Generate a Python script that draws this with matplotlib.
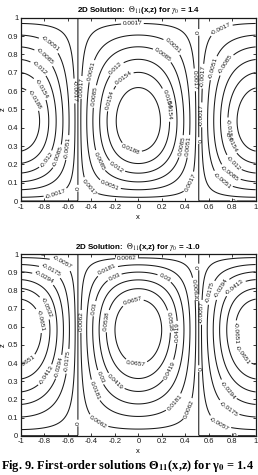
import numpy as np
import matplotlib.pyplot as plt

plt.rcParams['font.family'] = ['Liberation Sans', 'DejaVu Sans']
plt.rcParams['mathtext.fontset'] = 'stix'
plt.rcParams['contour.negative_linestyle'] = 'solid'

# contour levels (from the labels in the picture)
levels_a = [-0.0188, -0.0154, -0.012, -0.0085, -0.0051, -0.0017, -1e-9,
            0.0017, 0.0051, 0.0085, 0.012, 0.0154, 0.0188]
levels_b = [-0.0651, -0.0532, -0.0413, -0.0294, -0.0175, -0.0057, -1e-9,
            0.0062, 0.0181, 0.03, 0.0419, 0.0538, 0.0657]

# shape of Theta_11
amp_a, amp_b = 0.0224, 0.080      # peak value
skew_a, skew_b = 0.108, -0.149    # sin(2 pi z) share, moves the peak in z
x_zero = 0.515                    # vertical zero lines at x = +-x_zero

gammas = ['1.4', '-1.0']

# label spots (x, z)
spots_a = [(-0.84, 1.0), (-0.05, 0.965), (0.5, 0.92), (0.71, 0.93), (-0.75, 0.86),
           (0.3, 0.85), (-0.78, 0.80), (0.21, 0.8), (-0.84, 0.73), (-0.2, 0.73),
           (-0.41, 0.71), (0.57, 0.68), (0.67, 0.72), (0.78, 0.73), (0.46, 0.66),
           (-0.81, 0.62), (-0.9, 0.55), (-0.1, 0.65), (-0.24, 0.55), (-0.37, 0.57),
           (-0.545, 0.6), (-0.49, 0.62), (0.21, 0.55), (0.28, 0.51), (-0.58, 0.29),
           (-0.67, 0.24), (-0.75, 0.21), (-0.05, 0.3), (-0.33, 0.22), (-0.17, 0.2),
           (-0.24, 0.09), (-0.41, 0.08), (-0.7, 0.03), (-0.51, 0.07), (0.35, 0.3),
           (0.41, 0.3), (0.41, 0.11), (0.535, 0.47), (0.505, 0.33), (0.8, 0.39),
           (0.76, 0.33), (0.8, 0.2), (0.78, 0.15), (0.71, 0.11), (0.81, 0.0)]
spots_b = [(-0.82, 1.0), (-0.1, 0.975), (-0.65, 0.96), (-0.74, 0.92), (-0.8, 0.88),
           (-0.27, 0.92), (0.24, 0.89), (-0.2, 0.87), (-0.06, 0.77), (0.52, 0.93),
           (0.49, 0.81), (0.515, 0.76), (0.54, 0.68), (0.61, 0.79), (0.71, 0.81),
           (0.81, 0.83), (-0.81, 0.70), (-0.87, 0.63), (-0.37, 0.7), (-0.24, 0.63),
           (-0.49, 0.63), (0.27, 0.63), (0.34, 0.57), (0.91, 0.57), (0.85, 0.43),
           (-0.01, 0.44), (-0.94, 0.38), (-0.78, 0.33), (-0.68, 0.38), (-0.6, 0.41),
           (-0.33, 0.32), (-0.19, 0.30), (-0.37, 0.25), (0.3, 0.35), (0.51, 0.37),
           (0.31, 0.18), (0.42, 0.15), (0.74, 0.24), (0.78, 0.16), (0.71, 0.09),
           (-0.34, 0.08), (-0.52, 0.07), (0.82, 0.0)]


def theta11(x, z, amp, skew):
    prof = np.sin(np.pi * z) + skew * np.sin(2 * np.pi * z)
    prof[0] = 0.0
    prof[-1] = 0.0
    prof = prof / prof.max()
    return amp * np.outer(prof, np.cos(np.pi * x / (2 * x_zero)))


def fmt(v):
    if abs(v) < 1e-6:
        return '0'
    return f'{v:.4f}'.rstrip('0').rstrip('.')


x = np.linspace(-1, 1, 401)
z = np.linspace(0, 1, 201)

fig = plt.figure(figsize=(2.58, 4.75), dpi=100)
boxes = [[0.0814, 0.5768, 0.9095, 0.386], [0.0814, 0.0827, 0.9095, 0.382]]

for box, amp, skew, lev, spots, g in zip(boxes, [amp_a, amp_b], [skew_a, skew_b],
                                        [levels_a, levels_b], [spots_a, spots_b], gammas):
    ax = fig.add_axes(box)
    f = theta11(x, z, amp, skew)
    cs = ax.contour(x, z, f, levels=lev, colors='#1a1a1a', linewidths=0.75)
    ax.clabel(cs, lev, manual=spots, fmt=fmt, fontsize=4.6, inline=True,
              inline_spacing=1.5)
    ax.set_xlim(-1, 1)
    ax.set_ylim(0, 1)
    ax.set_xticks(np.arange(-1, 1.01, 0.2))
    ax.set_yticks(np.arange(0, 1.01, 0.1))
    ax.set_xticklabels(['-1', '-0.8', '-0.6', '-0.4', '-0.2', '0', '0.2', '0.4', '0.6', '0.8', '1'])
    ax.set_yticklabels(['0', '0.1', '0.2', '0.3', '0.4', '0.5', '0.6', '0.7', '0.8', '0.9', '1'])
    ax.tick_params(direction='in', length=2.5, width=0.6, labelsize=5.5, pad=2,
                   top=True, right=True, colors='#1a1a1a')
    for s in ax.spines.values():
        s.set_linewidth(0.9)
        s.set_color('#1a1a1a')
    ax.set_xlabel('x', fontsize=5.5, labelpad=2)
    ax.set_ylabel('z', fontsize=5.5, labelpad=0.5)
    ax.set_title(r'2D Solution:  $\Theta_{11}$(x,z) for $\gamma_0$ = ' + g,
                 fontsize=5.8, fontweight='bold', pad=4)

fig.text(0.005, 0.02,
         'Fig. 9. First-order solutions \u0398$_{\\mathbf{11}}$(x,z) for \u03b3$_{\\mathbf{0}}$ = 1.4',
         family=['Liberation Serif', 'DejaVu Serif'], fontweight='bold', fontsize=8.9,
         va='center', ha='left')

fig.savefig('out.png', dpi=100)
